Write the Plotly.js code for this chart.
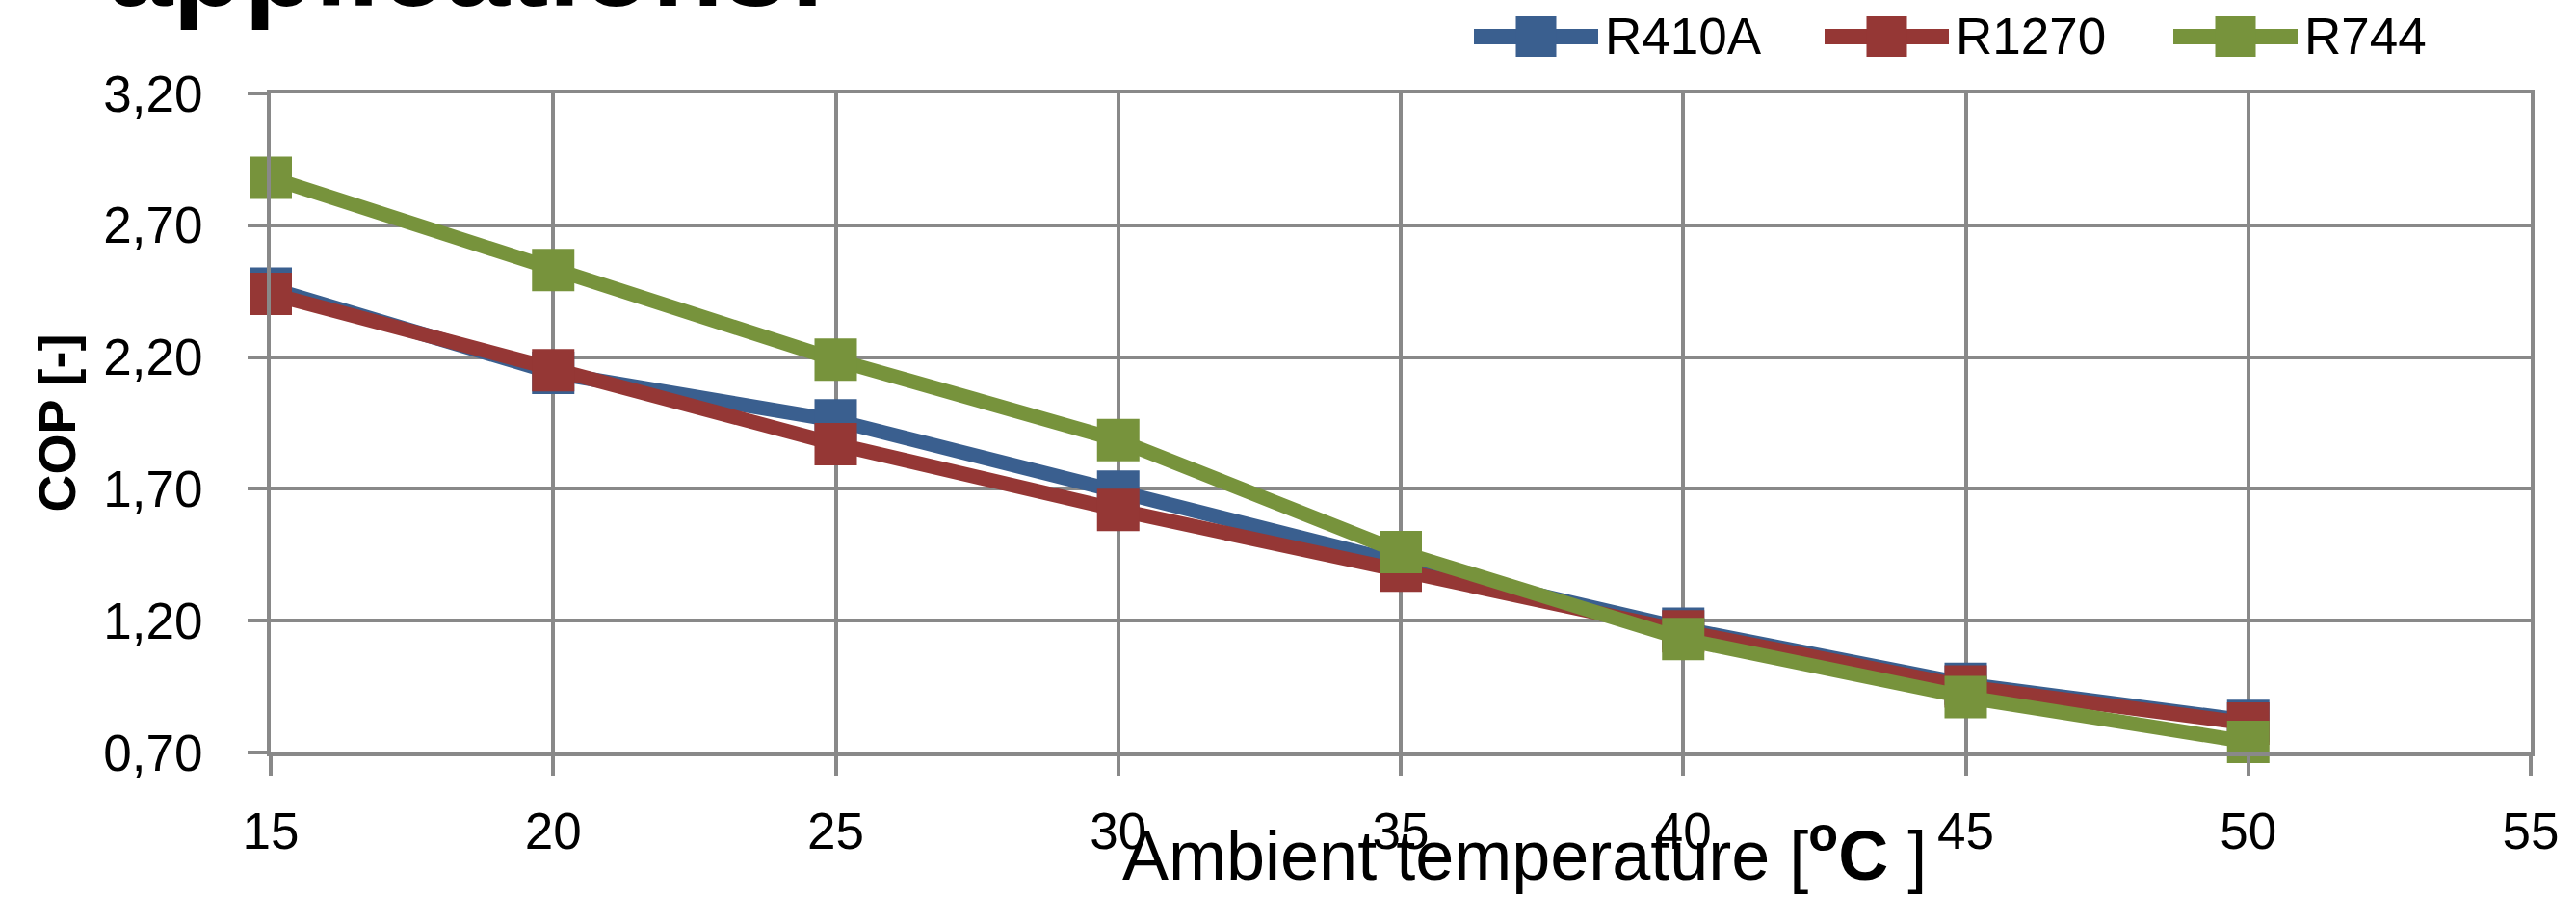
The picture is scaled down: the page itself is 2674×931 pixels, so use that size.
<!DOCTYPE html>
<html>
<head>
<meta charset="utf-8">
<script src="https://cdn.plot.ly/plotly-3.0.1.min.js"></script>
<style>html,body{margin:0;padding:0;background:#fff;}#chart{width:2674px;height:931px;}</style>
</head>
<body>
<div id="chart"></div>
<script>
// ---- data ----
const temperatures = [15, 20, 25, 30, 35, 40, 45, 50];
const seriesNames = ["R410A", "R1270", "R744"];
const copR410A = [2.46, 2.14, 1.96, 1.69, 1.42, 1.17, 0.96, 0.82];
const copR1270 = [2.44, 2.15, 1.87, 1.62, 1.39, 1.16, 0.95, 0.81];
const copR744  = [2.88, 2.53, 2.19, 1.885, 1.46, 1.13, 0.91, 0.74];
const xTicks = [15, 20, 25, 30, 35, 40, 45, 50, 55];
const yTicks = [0.70, 1.20, 1.70, 2.20, 2.70, 3.20];

// ---- style ----
const colors = ["#3A5F8F", "#953735", "#77933C"];
const W = 2674, H = 931;
const M = {l: 281, r: 47, t: 97, b: 150};
const PW = W - M.l - M.r, PH = H - M.t - M.b;
const px2x = p => (p - M.l) / PW;
const px2y = p => (H - M.b - p) / PH;
const grid = "#898989";
const tickFont = {family: "Liberation Sans, Arial, sans-serif", size: 53, color: "#000"};

const values = [copR410A, copR1270, copR744];
const traces = values.map((v, i) => ({
  x: temperatures, y: v, name: seriesNames[i], type: "scatter", mode: "lines+markers",
  line: {color: colors[i], width: 15},
  marker: {symbol: "square", size: 44, color: colors[i]},
  showlegend: false, cliponaxis: false
}));

// custom legend (line + square + label), positioned in pixels
const legendX = [1530, 1894, 2256];
const legendY = 38;
const shapes = [];
const annotations = [];
seriesNames.forEach((n, i) => {
  const x0 = legendX[i], x1 = x0 + 129, cx = (x0 + x1) / 2;
  shapes.push({type: "line", xref: "paper", yref: "paper",
    x0: px2x(x0), x1: px2x(x1), y0: px2y(legendY), y1: px2y(legendY),
    line: {color: colors[i], width: 16}});
  shapes.push({type: "rect", xref: "paper", yref: "paper",
    x0: px2x(cx - 21), x1: px2x(cx + 21), y0: px2y(legendY - 21), y1: px2y(legendY + 21),
    fillcolor: colors[i], line: {width: 0}});
  annotations.push({xref: "paper", yref: "paper", x: px2x(x1 + 5), y: px2y(legendY),
    xanchor: "left", yanchor: "middle", showarrow: false, text: n, font: tickFont});
});

// slide title fragment, cut at the top
annotations.push({xref: "paper", yref: "paper", x: px2x(110), y: px2y(-106),
  xanchor: "left", yanchor: "top", showarrow: false, text: "<b>applications:</b>",
  font: {family: "Liberation Sans, Arial, sans-serif", size: 121, color: "#000"}});

// x axis title (text box overlapping the tick labels, as in the reference)
annotations.push({xref: "paper", yref: "paper", x: px2x(1582), y: px2y(835),
  xanchor: "center", yanchor: "top", showarrow: false,
  text: "Ambient temperature [<sup><b>o</b></sup><b>C</b> ]",
  font: {family: "Liberation Sans, Arial, sans-serif", size: 72, color: "#000"}});

const layout = {
  width: W, height: H, margin: M,
  paper_bgcolor: "#fff", plot_bgcolor: "#fff",
  separators: ", ",
  showlegend: false,
  xaxis: {
    range: [15, 55], tickmode: "array", tickvals: xTicks, ticktext: xTicks.map(String),
    showgrid: true, gridcolor: grid, gridwidth: 4,
    showline: true, mirror: true, linecolor: grid, linewidth: 4,
    ticks: "outside", ticklen: 20, tickwidth: 4, tickcolor: grid,
    tickfont: tickFont, ticklabelstandoff: 12, zeroline: false, fixedrange: true
  },
  yaxis: {
    range: [0.70, 3.20], tickmode: "array", tickvals: yTicks, tickformat: ".2f",
    showgrid: true, gridcolor: grid, gridwidth: 4,
    showline: true, mirror: true, linecolor: grid, linewidth: 4,
    ticks: "outside", ticklen: 20, tickwidth: 4, tickcolor: grid,
    tickfont: tickFont, ticklabelstandoff: 36, zeroline: false, fixedrange: true,
    title: {text: "<b>COP [-]</b>", standoff: 12,
      font: {family: "Liberation Sans, Arial, sans-serif", size: 54, color: "#000"}}
  },
  shapes: shapes,
  annotations: annotations
};

Plotly.newPlot("chart", traces, layout, {displayModeBar: false, staticPlot: true});
</script>
</body>
</html>
